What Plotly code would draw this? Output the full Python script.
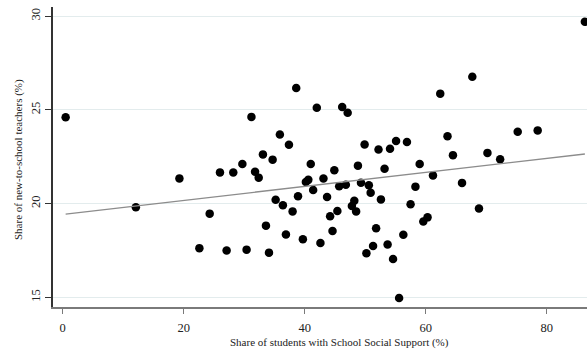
import numpy as np
import plotly.graph_objects as go

# Share of students with School Social Support (%) per school
support_pct = [
    0.5, 12.1, 19.3, 22.6, 24.3, 26.0, 28.2, 27.1, 30.4, 31.8,
    32.4, 33.6, 34.1, 35.2, 36.4, 36.9, 38.0, 38.9, 39.7, 31.2,
    38.6, 35.9, 37.4, 33.1, 34.7, 29.7, 42.0, 46.2, 47.1, 62.4,
    67.7, 86.3, 49.9, 52.2, 54.1, 55.1, 56.9, 63.6, 64.5, 41.0,
    44.9, 48.8, 53.2, 59.0, 70.2, 72.3, 75.2, 78.5, 61.2, 40.2,
    40.6, 43.1, 66.0, 41.4, 43.7, 45.7, 46.8, 49.3, 50.6, 50.9,
    52.6, 58.3, 57.5, 68.8, 44.2, 45.4, 47.8, 48.2, 48.5, 44.6,
    42.6, 51.8, 50.2, 51.3, 53.7, 54.6, 56.3, 59.6, 60.3, 55.6,
]

# Share of new-to-school teachers (%) per school
new_teacher_pct = [
    24.60, 19.80, 21.34, 17.62, 19.46, 21.66, 21.65, 17.49, 17.54, 21.69,
    21.38, 18.82, 17.38, 20.20, 19.91, 18.35, 19.58, 20.39, 18.09, 24.62,
    26.16, 23.68, 23.13, 22.62, 22.34, 22.11, 25.11, 25.15, 24.84, 25.86,
    26.76, 29.69, 23.15, 22.88, 22.92, 23.33, 23.28, 23.59, 22.58, 22.11,
    21.77, 22.02, 21.85, 22.11, 22.70, 22.36, 23.83, 23.90, 21.50, 21.15,
    21.26, 21.33, 21.10, 20.72, 20.35, 20.92, 21.00, 21.11, 20.97, 20.57,
    20.22, 20.90, 19.96, 19.73, 19.32, 19.60, 19.87, 20.15, 19.58, 18.53,
    17.89, 18.68, 17.35, 17.73, 17.81, 17.04, 18.33, 19.04, 19.26, 14.96,
]

x_ticks = [0, 20, 40, 60, 80]
y_ticks = [15, 20, 25, 30]

# Linear fit coefficients (intercept, slope) drawn across the observed range
fit_intercept = 19.42
fit_slope = 0.0373
fit_x = np.array([min(support_pct), max(support_pct)])
fit_y = fit_intercept + fit_slope * fit_x

serif = "Liberation Serif, Times New Roman, serif"

fig = go.Figure()
fig.add_trace(go.Scatter(
    x=support_pct, y=new_teacher_pct, mode="markers",
    marker=dict(color="black", size=8.5, line=dict(width=0)),
    showlegend=False,
))
fig.add_trace(go.Scatter(
    x=fit_x, y=fit_y, mode="lines",
    line=dict(color="#8c8c8c", width=1.3),
    showlegend=False,
))

fig.update_layout(
    width=587, height=349,
    margin=dict(l=53, r=0, t=7, b=42),
    paper_bgcolor="white", plot_bgcolor="white",
    font=dict(family=serif, color="#222"),
    xaxis=dict(
        range=[-1.59, 86.65], tickvals=x_ticks,
        ticktext=[str(v) for v in x_ticks],
        showgrid=False, zeroline=False,
        showline=True, linecolor="#7a7a7a", linewidth=2,
        ticks="outside", ticklen=5, tickcolor="#7a7a7a", tickwidth=1,
        tickfont=dict(family=serif, size=12.5, color="#222"),
        ticklabelstandoff=3,
    ),
    yaxis=dict(
        range=[14.48, 30.48], tickvals=y_ticks,
        ticktext=[str(v) for v in y_ticks],
        showgrid=True, gridcolor="#e3eced", gridwidth=1,
        zeroline=False,
        showline=True, linecolor="#333", linewidth=1.5,
        ticks="outside", ticklen=6, tickcolor="#333", tickwidth=1,
        tickangle=-90,
        tickfont=dict(family=serif, size=12.5, color="#222"),
    ),
    annotations=[
        dict(text="Share of students with School Social Support (%)",
             xref="paper", yref="paper", x=0.537, y=0,
             xanchor="center", yanchor="middle", yshift=-35,
             showarrow=False, font=dict(family=serif, size=11, color="#222")),
        dict(text="Share of new-to-school teachers (%)",
             xref="paper", yref="paper", x=0, y=0.49,
             xanchor="center", yanchor="middle", xshift=-35, textangle=-90,
             showarrow=False, font=dict(family=serif, size=11, color="#222")),
    ],
)

fig.write_html("out.html")
